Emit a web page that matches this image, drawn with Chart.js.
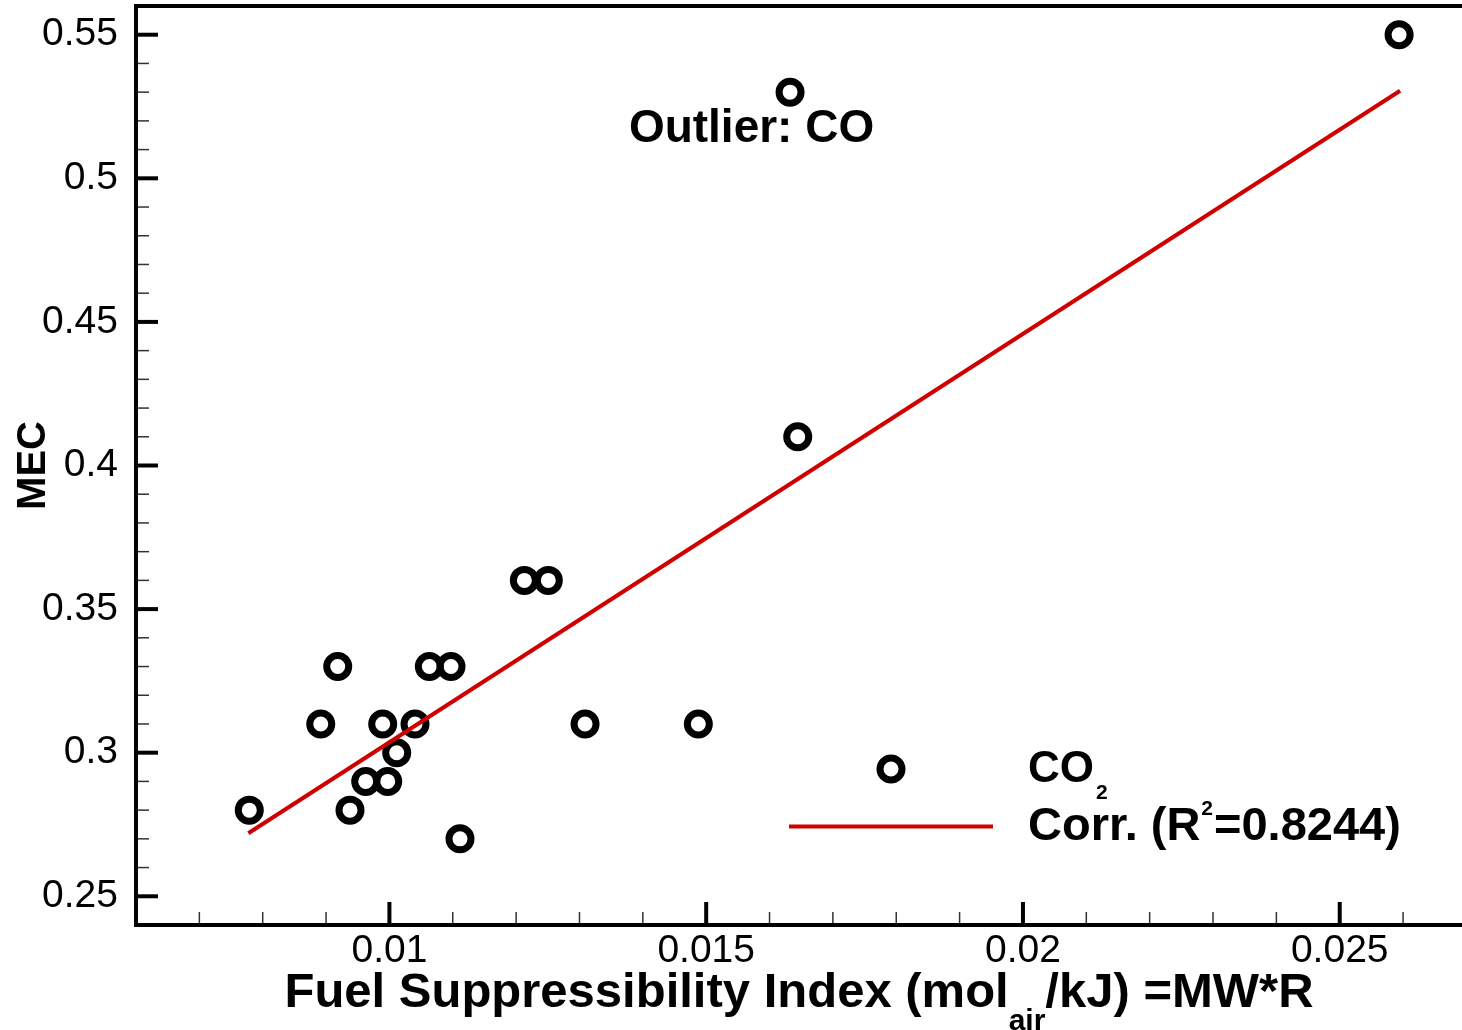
<!DOCTYPE html>
<html>
<head>
<meta charset="utf-8">
<script src="https://cdn.jsdelivr.net/npm/chart.js@4.4.0/dist/chart.umd.min.js"></script>
<style>
  html, body { margin: 0; padding: 0; background: #fff; overflow: hidden; }
</style>
</head>
<body>
<canvas id="mecChart" width="1462" height="1030"></canvas>
<script>
// fuel suppressibility index vs. MEC
const fsiValues = [0.007788, 0.008916, 0.009184, 0.009378, 0.009626, 0.009894, 0.009973,
  0.010115, 0.010404, 0.010630, 0.010972, 0.011114, 0.012130, 0.012508, 0.013088,
  0.014876, 0.016445, 0.016324, 0.025937];
const mecValues = [0.28, 0.31, 0.33, 0.28, 0.29, 0.31, 0.29,
  0.30, 0.31, 0.33, 0.33, 0.27, 0.36, 0.36, 0.31,
  0.31, 0.41, 0.53, 0.55];

// correlation line end points
const fitX = [0.007773, 0.025953];
const fitY = [0.27193, 0.53050];

const xMajorTicks = [0.01, 0.015, 0.02, 0.025];
const xMinorTicks = [0.007, 0.008, 0.009, 0.011, 0.012, 0.013, 0.014, 0.016, 0.017,
  0.018, 0.019, 0.021, 0.022, 0.023, 0.024, 0.026];
const yMajorTicks = [0.25, 0.3, 0.35, 0.4, 0.45, 0.5, 0.55];
const yMinorTicks = [0.26, 0.27, 0.28, 0.29, 0.31, 0.32, 0.33, 0.34, 0.36, 0.37, 0.38, 0.39,
  0.41, 0.42, 0.43, 0.44, 0.46, 0.47, 0.48, 0.49, 0.51, 0.52, 0.53, 0.54];

const outlierLabel = { text: "Outlier: CO", x: 0.015716, y: 0.51275 };

const FONT = "'Liberation Sans', Arial, sans-serif";
const RED = "#d10000";

function drawParts(ctx, x, parts) {
  // parts: [text, size, baseline, gap after]
  parts.forEach(p => {
    ctx.font = "bold " + p[1] + "px " + FONT;
    ctx.fillText(p[0], x, p[2]);
    x += ctx.measureText(p[0]).width + (p[3] || 0);
  });
}

const framePlugin = {
  id: "frame",
  afterDraw(chart) {
    const ctx = chart.ctx;
    const a = chart.chartArea;
    const xs = chart.scales.x, ys = chart.scales.y;
    ctx.save();
    ctx.lineCap = "butt";

    // minor ticks
    ctx.lineWidth = 1.5;
    ctx.strokeStyle = "#333";
    yMinorTicks.forEach(v => {
      const y = ys.getPixelForValue(v);
      ctx.beginPath(); ctx.moveTo(a.left, y); ctx.lineTo(a.left + 13, y); ctx.stroke();
    });
    xMinorTicks.forEach(v => {
      const x = xs.getPixelForValue(v);
      ctx.beginPath(); ctx.moveTo(x, a.bottom); ctx.lineTo(x, a.bottom - 13); ctx.stroke();
    });

    // major ticks
    ctx.strokeStyle = "#000";
    ctx.lineWidth = 4;
    yMajorTicks.forEach(v => {
      const y = ys.getPixelForValue(v);
      ctx.beginPath(); ctx.moveTo(a.left, y); ctx.lineTo(a.left + 22, y); ctx.stroke();
    });
    xMajorTicks.forEach(v => {
      const x = xs.getPixelForValue(v);
      ctx.beginPath(); ctx.moveTo(x, a.bottom); ctx.lineTo(x, a.bottom - 23); ctx.stroke();
    });

    // frame
    ctx.beginPath();
    ctx.moveTo(a.right, a.top);
    ctx.lineTo(a.left, a.top);
    ctx.lineTo(a.left, a.bottom);
    ctx.lineTo(a.right, a.bottom);
    ctx.stroke();

    // annotation
    ctx.fillStyle = "#000";
    ctx.textAlign = "center";
    ctx.textBaseline = "alphabetic";
    ctx.font = "bold 46px " + FONT;
    ctx.fillText(outlierLabel.text, xs.getPixelForValue(outlierLabel.x), ys.getPixelForValue(outlierLabel.y));

    // legend
    ctx.textAlign = "left";
    ctx.lineWidth = 7;
    ctx.beginPath();
    ctx.arc(891, 769, 11, 0, Math.PI * 2);
    ctx.stroke();
    ctx.strokeStyle = RED;
    ctx.lineWidth = 4;
    ctx.beginPath(); ctx.moveTo(789, 826.5); ctx.lineTo(993, 826.5); ctx.stroke();
    drawParts(ctx, 1028, [["CO", 44, 782, 2], ["2", 21, 799]]);
    drawParts(ctx, 1028, [["Corr. (R", 47, 839.5, 1], ["2", 21, 815, 1], ["=0.8244)", 47, 839.5]]);

    // x axis title
    ctx.font = "bold 49px " + FONT;
    const p1 = "Fuel Suppressibility Index (mol", p3 = "/kJ) =MW*R";
    const w1 = ctx.measureText(p1).width, w3 = ctx.measureText(p3).width;
    ctx.font = "bold 30px " + FONT;
    const w2 = ctx.measureText("air").width;
    const start = (a.left + a.right) / 2 - (w1 + w2 + w3) / 2;
    drawParts(ctx, start, [[p1, 49, 1007], ["air", 30, 1030], [p3, 49, 1007]]);
    ctx.restore();
  }
};

const ctx = document.getElementById("mecChart").getContext("2d");

const mecChart = new Chart(ctx, {
  type: "scatter",
  data: {
    datasets: [{
      type: "line",
      label: "Corr.",
      data: fitX.map((x, i) => ({ x: x, y: fitY[i] })),
      borderColor: RED,
      borderWidth: 4,
      pointRadius: 0,
      fill: false,
      order: 0
    }, {
      label: "CO2",
      data: fsiValues.map((x, i) => ({ x: x, y: mecValues[i] })),
      pointStyle: "circle",
      pointRadius: 11,
      borderWidth: 7,
      borderColor: "#000",
      backgroundColor: "rgba(0,0,0,0)",
      order: 1
    }]
  },
  options: {
    responsive: false,
    animation: false,
    events: [],
    clip: false,
    layout: { autoPadding: false, padding: { top: 6, right: 0, left: 0, bottom: 0 } },
    plugins: { legend: { display: false }, tooltip: { enabled: false } },
    scales: {
      x: {
        type: "linear",
        min: 0.006,
        max: 0.02693,
        grid: { display: false, drawTicks: false },
        border: { display: false },
        afterBuildTicks: s => { s.ticks = xMajorTicks.map(v => ({ value: v })); },
        afterFit: s => { s.height = 105; s.paddingLeft = 0; s.paddingRight = 0; },
        ticks: {
          padding: 3,
          color: "#000",
          font: { family: FONT, size: 39 },
          callback: v => String(v)
        }
      },
      y: {
        min: 0.24,
        max: 0.56,
        grid: { display: false, drawTicks: false },
        border: { display: false },
        afterBuildTicks: s => { s.ticks = yMajorTicks.map(v => ({ value: v })); },
        afterFit: s => { s.width = 136; s.paddingTop = 0; s.paddingBottom = 0; },
        title: {
          display: true,
          text: "MEC",
          color: "#000",
          padding: { top: 10, bottom: 0 },
          font: { family: FONT, size: 40, weight: "bold" }
        },
        ticks: {
          padding: 18,
          color: "#000",
          font: { family: FONT, size: 39 },
          callback: v => String(v)
        }
      }
    }
  },
  plugins: [framePlugin]
});
</script>
</body>
</html>
